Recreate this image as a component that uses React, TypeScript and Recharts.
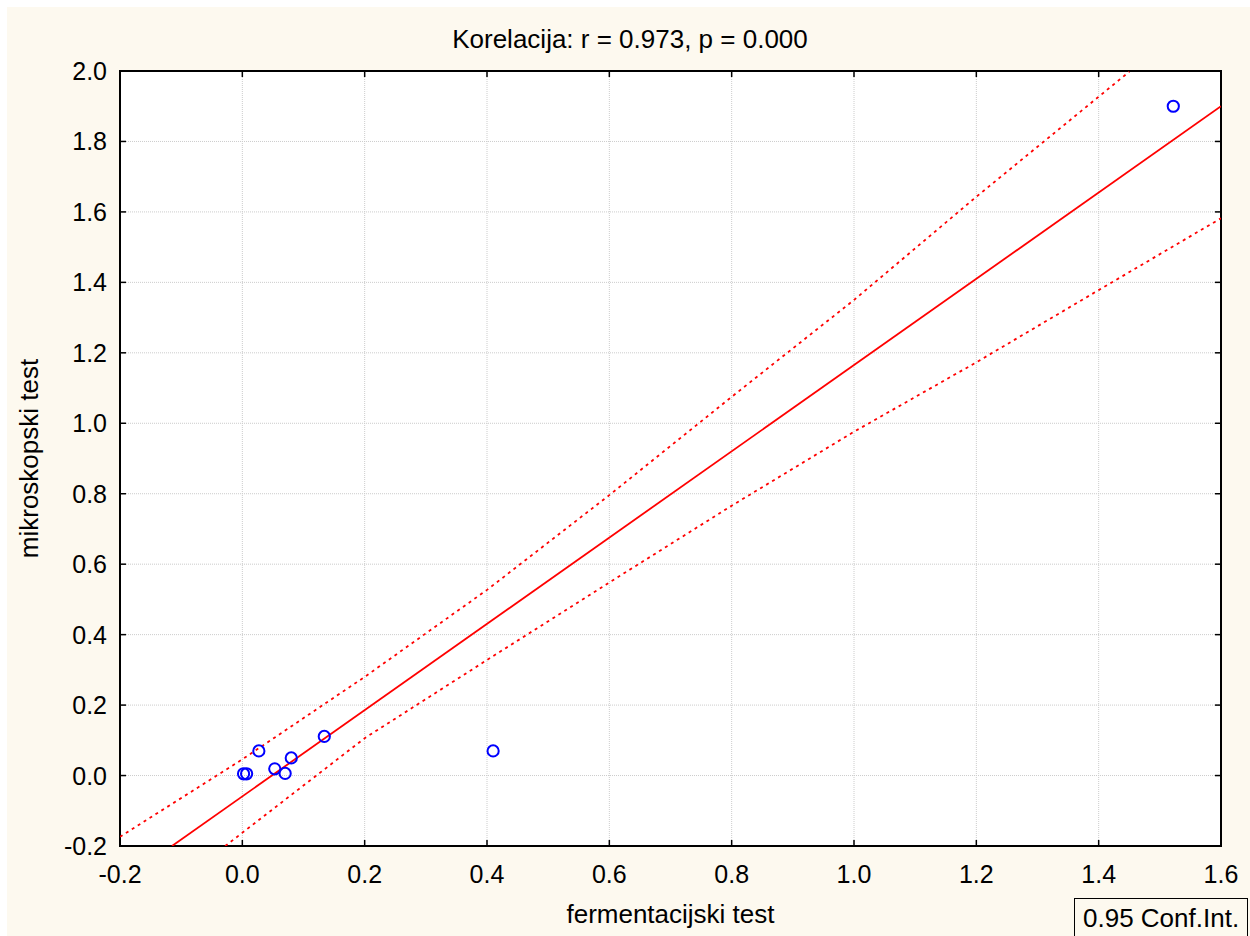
import React from "react";
import {
  ScatterChart,
  Scatter,
  XAxis,
  YAxis,
  CartesianGrid,
  ReferenceArea,
} from "recharts";

// measured points: fermentacijski test (x) vs mikroskopski test (y)
const fermentacijski = [0.002, 0.007, 0.027, 0.053, 0.07, 0.08, 0.134, 0.41, 1.522];
const mikroskopski = [0.005, 0.005, 0.07, 0.019, 0.006, 0.05, 0.111, 0.07, 1.9];

const fitX = [-0.115, 1.6];
const fitY = [-0.2, 1.9];

// 0.95 confidence band
const upperX = [-0.2, 0.0, 0.2, 0.4, 0.6, 0.8, 1.0, 1.2, 1.45];
const upperY = [-0.174, 0.046, 0.28, 0.527, 0.796, 1.075, 1.35, 1.643, 1.998];
const lowerX = [-0.028, 0.2, 0.4, 0.6, 0.8, 1.0, 1.2, 1.4, 1.6];
const lowerY = [-0.2, 0.106, 0.328, 0.548, 0.766, 0.976, 1.173, 1.378, 1.582];

const xTicks = [-0.2, 0, 0.2, 0.4, 0.6, 0.8, 1.0, 1.2, 1.4, 1.6];
const yTicks = [-0.2, 0, 0.2, 0.4, 0.6, 0.8, 1.0, 1.2, 1.4, 1.6, 1.8, 2.0];

const title = "Korelacija: r = 0.973, p = 0.000";
const xLabel = "fermentacijski test";
const yLabel = "mikroskopski test";
const legendLabel = "0.95 Conf.Int.";

const zip = (xs: number[], ys: number[]) => xs.map((x, i) => ({ x, y: ys[i] }));

const points = zip(fermentacijski, mikroskopski);
const fit = zip(fitX, fitY);
const upper = zip(upperX, upperY);
const lower = zip(lowerX, lowerY);

const W = 1243;
const H = 929;
const margin = { top: 64, right: 29, bottom: 50, left: 53 };
const Y_AXIS_W = 60;
const X_AXIS_H = 40;
const PT = margin.top;
const PB = H - margin.bottom - X_AXIS_H;
const PL = margin.left + Y_AXIS_W;
const PR = W - margin.right;

const FONT = '"Liberation Sans", Arial, sans-serif';
const TICK_FS = 25;
const LABEL_FS = 26;

const XTick = ({ x, payload }: any) => (
  <g>
    <line x1={x} x2={x} y1={PB} y2={PB - 6} stroke="#000" strokeWidth={1.5} />
    <line x1={x} x2={x} y1={PT} y2={PT + 6} stroke="#000" strokeWidth={1.5} />
    <text x={x} y={PB + 37} textAnchor="middle" fontSize={TICK_FS} fill="#000" fontFamily={FONT}>
      {Number(payload.value).toFixed(1)}
    </text>
  </g>
);

const YTick = ({ y, payload }: any) => (
  <g>
    <line x1={PL} x2={PL + 6} y1={y} y2={y} stroke="#000" strokeWidth={1.5} />
    <line x1={PR} x2={PR - 6} y1={y} y2={y} stroke="#000" strokeWidth={1.5} />
    <text x={PL - 13} y={y} dy="0.36em" textAnchor="end" fontSize={TICK_FS} fill="#000" fontFamily={FONT}>
      {Number(payload.value).toFixed(1)}
    </text>
  </g>
);

const Ring = ({ cx, cy }: any) => (
  <circle cx={cx} cy={cy} r={5.6} fill="none" stroke="#0000ff" strokeWidth={2} />
);

const NoDot = () => <g />;

const dashed = { stroke: "#ff0000", strokeWidth: 1.8, strokeDasharray: "3 4" };

export default function App() {
  return (
    <div
      style={{
        position: "absolute",
        left: 7,
        top: 7,
        width: W,
        height: H,
        background: "#fdf9ef",
        fontFamily: FONT,
      }}
    >
      <ScatterChart width={W} height={H} margin={margin}>
        <CartesianGrid
          fill="#ffffff"
          stroke="#cccccc"
          strokeDasharray="1 1"
          horizontalValues={yTicks}
          verticalValues={xTicks}
        />
        <XAxis
          type="number"
          dataKey="x"
          domain={[-0.2, 1.6]}
          ticks={xTicks}
          allowDataOverflow
          height={X_AXIS_H}
          axisLine={false}
          tickLine={false}
          tick={<XTick />}
          interval={0}
        />
        <YAxis
          type="number"
          dataKey="y"
          domain={[-0.2, 2.0]}
          ticks={yTicks}
          allowDataOverflow
          width={Y_AXIS_W}
          axisLine={false}
          tickLine={false}
          tick={<YTick />}
          interval={0}
        />
        <Scatter data={upper} line={dashed} shape={<NoDot />} isAnimationActive={false} />
        <Scatter data={lower} line={dashed} shape={<NoDot />} isAnimationActive={false} />
        <Scatter
          data={fit}
          line={{ stroke: "#ff0000", strokeWidth: 1.8 }}
          shape={<NoDot />}
          isAnimationActive={false}
        />
        <Scatter data={points} shape={<Ring />} isAnimationActive={false} />
        <ReferenceArea
          x1={-0.2}
          x2={1.6}
          y1={-0.2}
          y2={2.0}
          fill="none"
          stroke="#000"
          strokeWidth={2}
        />
        <text x={623} y={41} textAnchor="middle" fontSize={LABEL_FS} fill="#000" fontFamily={FONT}>
          {title}
        </text>
        <text x={(PL + PR) / 2} y={916} textAnchor="middle" fontSize={LABEL_FS} fill="#000" fontFamily={FONT}>
          {xLabel}
        </text>
        <text
          x={31}
          y={(PT + PB) / 2}
          textAnchor="middle"
          fontSize={LABEL_FS}
          fill="#000"
          fontFamily={FONT}
          transform={`rotate(-90 31 ${(PT + PB) / 2})`}
        >
          {yLabel}
        </text>
      </ScatterChart>
      <div
        style={{
          position: "absolute",
          left: 1067,
          top: 891,
          width: 174,
          height: 40,
          border: "1px solid #000",
          boxSizing: "border-box",
          fontSize: LABEL_FS,
          lineHeight: "38px",
          paddingLeft: 8,
          whiteSpace: "nowrap",
          color: "#000",
        }}
      >
        {legendLabel}
      </div>
    </div>
  );
}
